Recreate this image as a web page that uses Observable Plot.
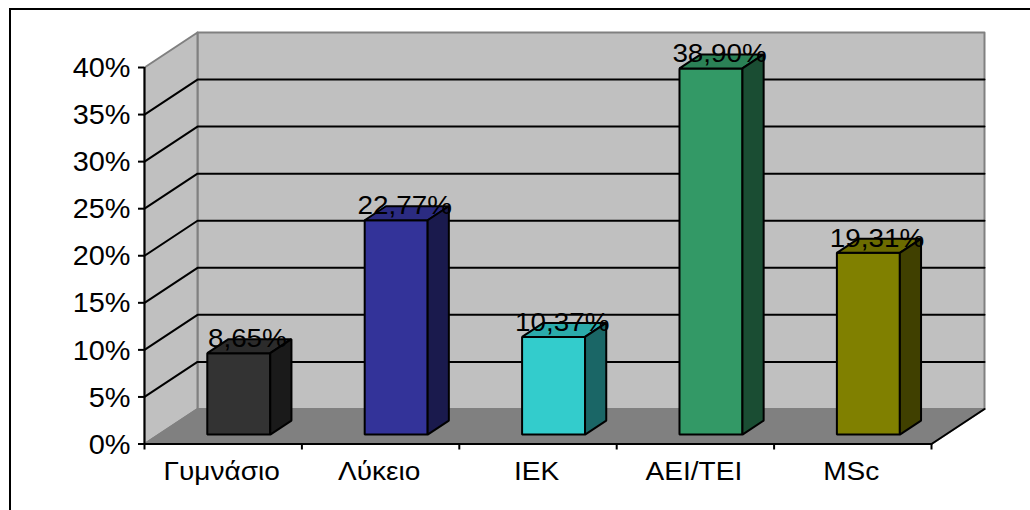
<!DOCTYPE html>
<html lang="el">
<head>
<meta charset="utf-8">
<script src="https://cdn.jsdelivr.net/npm/d3@7"></script>
<script src="https://cdn.jsdelivr.net/npm/@observablehq/plot@0.6"></script>
<style>
  html, body { margin: 0; padding: 0; background: #fff; overflow: hidden; }
  #chart { position: relative; width: 1030px; height: 510px; overflow: hidden; }
  #chart svg { display: block; position: absolute; left: 0; top: 0; background: transparent; }
  #border { position: absolute; left: 9px; top: 8px; width: 1100px; height: 600px;
            border-left: 2px solid #000; border-top: 2px solid #000; }
</style>
</head>
<body>
<div id="chart"><div id="border"></div></div>
<script>
// Education level shares (percent)
const categories = ["Γυμνάσιο", "Λύκειο", "ΙΕΚ", "ΑΕΙ/ΤΕΙ", "MSc"];
const shares = [8.65, 22.77, 10.37, 38.90, 19.31];
const shareLabels = ["8,65%", "22,77%", "10,37%", "38,90%", "19,31%"];
const barColors = ["#333333", "#333399", "#33CCCC", "#339966", "#808000"];
const yTicks = [0, 5, 10, 15, 20, 25, 30, 35, 40];

// Oblique projection: a full step in depth shifts x by depthX categories and y by depthY percent.
const depthX = 53 / 157.4;
const depthY = 3.72;
const yMax = 40;
const n = categories.length;
const at = (c, d, v) => ({x: c + d * depthX, y: v + d * depthY});
const poly = (id, fill, corners) => corners.map(([c, d, v]) => ({id, fill, ...at(c, d, v)}));

// Bar placement inside a category slot and inside the floor's depth
const gap = 0.308, barW = 0.40, depthStart = 0.27, depthEnd = 0.67;

const walls = [
  ...poly("back", "#c0c0c0", [[0, 1, 0], [n, 1, 0], [n, 1, yMax], [0, 1, yMax]]),
  ...poly("side", "#c0c0c0", [[0, 0, 0], [0, 1, 0], [0, 1, yMax], [0, 0, yMax]]),
];
const floor = poly("floor", "#808080", [[0, 0, 0], [n, 0, 0], [n, 1, 0], [0, 1, 0]]);
const gridlines = yTicks.filter(v => v > 0 && v < yMax).flatMap(v =>
  [[0, 0, v], [0, 1, v], [n, 1, v]].map(([c, d, w]) => ({id: v, ...at(c, d, w)})));
const floorRight = [[n, 0, 0], [n, 1, 0]].map(([c, d, v]) => at(c, d, v));

const faces = categories.flatMap((name, i) => {
  const l = i + gap, r = l + barW, v = shares[i], col = d3.color(barColors[i]);
  const shade = k => d3.rgb(col.r * k, col.g * k, col.b * k).formatHex();
  return [
    ...poly(name + "-front", barColors[i], [[l, depthStart, 0], [r, depthStart, 0], [r, depthStart, v], [l, depthStart, v]]),
    ...poly(name + "-top", shade(0.84), [[l, depthStart, v], [r, depthStart, v], [r, depthEnd, v], [l, depthEnd, v]]),
    ...poly(name + "-side", shade(0.5), [[r, depthStart, 0], [r, depthEnd, 0], [r, depthEnd, v], [r, depthStart, v]]),
  ];
});

const valueLabels = shareLabels.map((text, i) => ({
  text, ...at(i + gap + barW / 2, (depthStart + depthEnd) / 2, shares[i])
}));

const font = "'Liberation Sans', Arial, sans-serif";
const lineW = 2;

const plot = Plot.plot({
  width: 1030,
  height: 510,
  marginLeft: 144,
  marginRight: 46,
  marginTop: 32,
  marginBottom: 66.5,
  style: {fontFamily: font, background: "transparent"},
  x: {domain: [0, n + depthX], label: null},
  y: {domain: [0, yMax + depthY], label: null},
  marks: [
    Plot.line(walls, {x: "x", y: "y", z: "id", fill: "fill", stroke: "#808080", strokeWidth: lineW, curve: "linear-closed"}),
    Plot.line(gridlines, {x: "x", y: "y", z: "id", stroke: "#000", strokeWidth: lineW}),
    Plot.line(floor, {x: "x", y: "y", z: "id", fill: "fill", stroke: "#808080", strokeWidth: lineW, curve: "linear-closed"}),
    Plot.line(floorRight, {x: "x", y: "y", stroke: "#000", strokeWidth: lineW}),
    Plot.ruleX([0], {y1: 0, y2: yMax, stroke: "#000", strokeWidth: lineW}),
    Plot.ruleY([0], {x1: 0, x2: n, stroke: "#000", strokeWidth: lineW}),
    Plot.axisY({ticks: yTicks, tickFormat: () => "", tickSize: 6, label: null, strokeWidth: lineW}),
    Plot.axisY({ticks: yTicks, tickFormat: d => d + "%", tickSize: 0, tickPadding: 14, fontSize: 27, label: null, dy: 1}),
    Plot.axisX({ticks: d3.range(n + 1), tickFormat: () => "", tickSize: 6, label: null, strokeWidth: lineW}),
    Plot.axisX({ticks: categories.map((_, i) => i + 0.5), tickFormat: d => categories[d - 0.5], tickSize: 0,
                tickPadding: 17, fontSize: 26.2, label: null, dx: -1.5}),
    Plot.line(faces, {x: "x", y: "y", z: "id", fill: "fill", stroke: "#000", strokeWidth: lineW,
                      curve: "linear-closed", strokeLinejoin: "miter"}),
    Plot.text(valueLabels, {x: "x", y: "y", text: "text", fontSize: 26, fill: "#000", lineAnchor: "bottom", dy: 1, dx: -2})
  ]
});
document.getElementById("chart").appendChild(plot);

// The typeface runs wider than the stock Liberation metrics, so widen every label a little.
d3.select(plot).selectAll("text").each(function () {
  const len = this.getComputedTextLength();
  if (len > 0) {
    this.setAttribute("textLength", (len * 1.07).toFixed(1));
    this.setAttribute("lengthAdjust", "spacingAndGlyphs");
  }
});
</script>
</body>
</html>
